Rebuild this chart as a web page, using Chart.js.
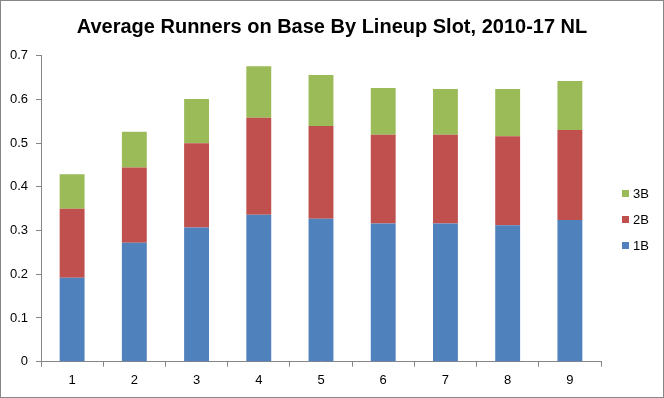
<!DOCTYPE html>
<html>
<head>
<meta charset="utf-8">
<script src="https://cdn.jsdelivr.net/npm/chart.js@4/dist/chart.umd.min.js"></script>
<style>
html,body{margin:0;padding:0;background:#fff;}
#wrap{width:664px;height:398px;position:relative;}
</style>
</head>
<body>
<div id="wrap"><canvas id="c" width="664" height="398"></canvas></div>
<script>
const categories = ["1","2","3","4","5","6","7","8","9"];
const single = [0.192,0.272,0.307,0.336,0.327,0.316,0.316,0.312,0.324];
const double = [0.158,0.172,0.193,0.222,0.212,0.203,0.203,0.204,0.206];
const triple = [0.079,0.082,0.101,0.118,0.117,0.107,0.105,0.108,0.112];
const seriesNames = ["1B","2B","3B"];
const titleText = "Average Runners on Base By Lineup Slot, 2010-17 NL";

const FONT = "'Liberation Sans', Arial, sans-serif";
const AXIS = "#868686";

const borderPlugin = {
  id: 'outerBorder',
  afterDraw(chart) {
    const ctx = chart.ctx;
    ctx.save();
    ctx.strokeStyle = AXIS;
    ctx.lineWidth = 1;
    ctx.strokeRect(0.5, 0.5, chart.width - 1, chart.height - 1);
    ctx.restore();
  }
};

const titlePlugin = {
  id: 'centerTitle',
  afterDraw(chart) {
    const ctx = chart.ctx;
    ctx.save();
    ctx.font = "bold 20px " + FONT;
    ctx.fillStyle = '#000';
    ctx.textAlign = 'center';
    ctx.textBaseline = 'middle';
    ctx.fillText(titleText, chart.width / 2, 27);
    ctx.restore();
  }
};

const legendPlugin = {
  id: 'sideLegend',
  afterDraw(chart) {
    const ctx = chart.ctx;
    const ds = chart.data.datasets;
    ctx.save();
    ctx.font = "13px " + FONT;
    ctx.textBaseline = 'middle';
    ctx.textAlign = 'left';
    const x = 622, y0 = 193.5, step = 26;
    for (let i = ds.length - 1, k = 0; i >= 0; i--, k++) {
      const y = y0 + k * step;
      ctx.fillStyle = ds[i].backgroundColor;
      ctx.fillRect(x, y - 3.5, 7, 7);
      ctx.fillStyle = '#000';
      ctx.fillText(ds[i].label, x + 11, y + 0.5);
    }
    ctx.restore();
  }
};

new Chart(document.getElementById('c'), {
  type: 'bar',
  data: {
    labels: categories,
    datasets: [
      {label: seriesNames[0], data: single, backgroundColor: '#4F81BD'},
      {label: seriesNames[1], data: double, backgroundColor: '#C0504D'},
      {label: seriesNames[2], data: triple, backgroundColor: '#9BBB59'}
    ]
  },
  options: {
    responsive: false,
    animation: false,
    devicePixelRatio: 1,
    layout: {padding: {left: 0, right: 63, top: 55.7, bottom: 0}},
    datasets: {bar: {barPercentage: 0.4, categoryPercentage: 1.0, borderWidth: 0}},
    plugins: {
      legend: {display: false},
      tooltip: {enabled: false},
      title: {display: false}
    },
    scales: {
      x: {
        stacked: true,
        grid: {display: true, drawOnChartArea: false, drawTicks: true, tickLength: 5, color: AXIS, offset: true},
        border: {display: true, color: AXIS},
        ticks: {color: '#000', font: {family: FONT, size: 13}, padding: 6},
        afterFit(s) { s.height = 36.3; }
      },
      y: {
        stacked: true,
        min: 0, max: 0.7,
        grid: {display: true, drawOnChartArea: false, drawTicks: true, tickLength: 5, color: AXIS},
        border: {display: true, color: AXIS},
        ticks: {stepSize: 0.1, color: '#000', font: {family: FONT, size: 13}, padding: 8,
          callback: v => (Math.round(v * 10) / 10).toString()},
        afterFit(s) { s.width = 41; }
      }
    }
  },
  plugins: [borderPlugin, titlePlugin, legendPlugin]
});
</script>
</body>
</html>
